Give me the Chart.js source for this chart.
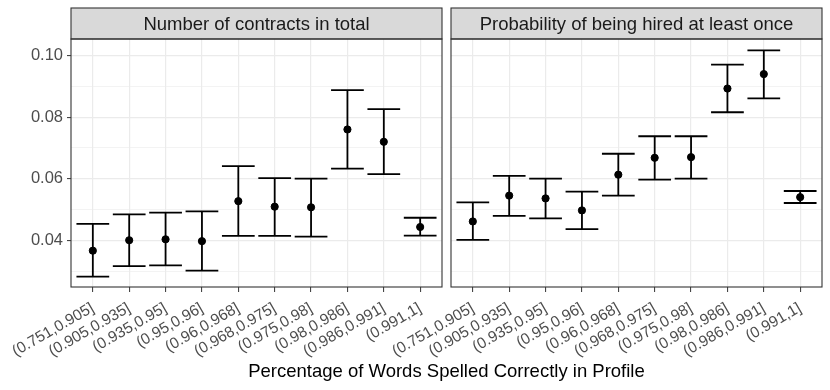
<!DOCTYPE html>
<html>
<head>
<meta charset="utf-8">
<script src="https://cdn.jsdelivr.net/npm/chart.js@4.4.1/dist/chart.umd.min.js"></script>
<style>
  body { margin: 0; background: #fff; }
  #wrap { position: relative; width: 830px; height: 390px; }
  canvas { position: absolute; left: 0; top: 0; }
  #xtitle {
    position: absolute; left: 71px; width: 751px; top: 360px;
    text-align: center; font: 18.5px "Liberation Sans", Arial, sans-serif; color: #000;
  }
</style>
</head>
<body>
<div id="wrap">
  <canvas id="leftChart" width="830" height="390"></canvas>
  <canvas id="rightChart" width="830" height="390"></canvas>
  <div id="xtitle">Percentage of Words Spelled Correctly in Profile</div>
</div>
<script>
const bins = ['(0.751,0.905]', '(0.905,0.935]', '(0.935,0.95]', '(0.95,0.96]', '(0.96,0.968]',
  '(0.968,0.975]', '(0.975,0.98]', '(0.98,0.986]', '(0.986,0.991]', '(0.991,1]'];

// Number of contracts in total
const contractsMean = [0.0366, 0.0400, 0.0403, 0.0397, 0.0527, 0.0509, 0.0507, 0.0760, 0.0720, 0.0443];
const contractsLow  = [0.0282, 0.0316, 0.0318, 0.0301, 0.0414, 0.0414, 0.0412, 0.0633, 0.0615, 0.0415];
const contractsHigh = [0.0453, 0.0484, 0.0490, 0.0494, 0.0641, 0.0602, 0.0600, 0.0888, 0.0826, 0.0473];

// Probability of being hired at least once
const hiredMean = [0.0461, 0.0545, 0.0536, 0.0497, 0.0613, 0.0668, 0.0670, 0.0893, 0.0940, 0.0540];
const hiredLow  = [0.0401, 0.0479, 0.0471, 0.0436, 0.0545, 0.0597, 0.0600, 0.0816, 0.0861, 0.0521];
const hiredHigh = [0.0523, 0.0609, 0.0600, 0.0558, 0.0681, 0.0738, 0.0738, 0.0971, 0.1017, 0.0560];

const yTicks = [0.03, 0.04, 0.05, 0.06, 0.07, 0.08, 0.09, 0.10];
const majorTicks = ['0.04', '0.06', '0.08', '0.10'];

const FONT = '"Liberation Sans", Arial, sans-serif';

// error bars + strip + panel border
const facetPlugin = {
  id: 'facet',
  beforeDatasetsDraw(chart, args, opts) {
    const { ctx, scales: { x, y } } = chart;
    const half = (x.getPixelForValue(1) - x.getPixelForValue(0)) * 0.45;
    ctx.save();
    ctx.strokeStyle = '#000';
    ctx.lineWidth = 1.8;
    opts.low.forEach((lo, i) => {
      const px = x.getPixelForValue(i);
      const yl = y.getPixelForValue(lo);
      const yh = y.getPixelForValue(opts.high[i]);
      ctx.beginPath();
      ctx.moveTo(px, yl); ctx.lineTo(px, yh);
      ctx.moveTo(px - half, yl); ctx.lineTo(px + half, yl);
      ctx.moveTo(px - half, yh); ctx.lineTo(px + half, yh);
      ctx.stroke();
    });
    ctx.restore();
  },
  afterDraw(chart, args, opts) {
    const { ctx, chartArea: a } = chart;
    ctx.save();
    ctx.fillStyle = '#D9D9D9';
    ctx.fillRect(a.left, 8, a.right - a.left, a.top - 8);
    ctx.strokeStyle = '#333333';
    ctx.lineWidth = 1.1;
    ctx.strokeRect(a.left, 8, a.right - a.left, a.top - 8);
    ctx.strokeRect(a.left, a.top, a.right - a.left, a.bottom - a.top);
    ctx.fillStyle = '#1A1A1A';
    ctx.font = '18.5px ' + FONT;
    ctx.textAlign = 'center';
    ctx.textBaseline = 'middle';
    ctx.fillText(opts.title, (a.left + a.right) / 2, (8 + a.top) / 2 + 1);
    ctx.restore();
  }
};

function makePanel(id, title, mean, low, high, showY, pad) {
  return new Chart(document.getElementById(id), {
    type: 'scatter',
    data: {
      datasets: [{
        data: mean.map((v, i) => ({ x: i, y: v })),
        backgroundColor: '#000',
        borderColor: '#000',
        pointRadius: 3.6,
        pointHoverRadius: 3.6
      }]
    },
    options: {
      responsive: false,
      devicePixelRatio: 1,
      animation: false,
      layout: { padding: pad },
      plugins: {
        legend: { display: false },
        tooltip: { enabled: false },
        facet: { title: title, low: low, high: high }
      },
      scales: {
        x: {
          type: 'linear',
          min: -0.6,
          max: 9.6,
          afterBuildTicks: s => { s.ticks = bins.map((b, i) => ({ value: i })); },
          afterFit: s => { s.height = 103; },
          border: { display: false },
          grid: { color: '#EBEBEB', lineWidth: 1.2, tickLength: 5, tickColor: '#333333', tickWidth: 1 },
          ticks: {
            autoSkip: false,
            minRotation: 30,
            maxRotation: 30,
            padding: 7,
            color: '#4D4D4D',
            font: { family: FONT, size: 15.5 },
            callback: v => bins[v]
          }
        },
        y: {
          min: 0.0248,
          max: 0.1054,
          afterBuildTicks: s => { s.ticks = yTicks.map(v => ({ value: v })); },
          afterFit: s => { s.width = showY ? 71 : 0; },
          border: { display: false },
          grid: {
            color: '#EBEBEB',
            lineWidth: c => majorTicks.includes(c.tick.value.toFixed(2)) ? 1.2 : 0.6,
            drawTicks: showY,
            tickLength: 4,
            tickWidth: 1,
            tickColor: c => majorTicks.includes(c.tick.value.toFixed(2)) ? '#333333' : 'rgba(0,0,0,0)'
          },
          ticks: {
            display: showY,
            padding: 4,
            color: '#4D4D4D',
            font: { family: FONT, size: 16.5 },
            callback: v => majorTicks.includes(v.toFixed(2)) ? v.toFixed(2) : ''
          }
        }
      }
    },
    plugins: [facetPlugin]
  });
}

makePanel('leftChart', 'Number of contracts in total', contractsMean, contractsLow, contractsHigh, true,
  { left: 0, top: 39, right: 388, bottom: 0 });
makePanel('rightChart', 'Probability of being hired at least once', hiredMean, hiredLow, hiredHigh, false,
  { left: 451, top: 39, right: 8, bottom: 0 });
</script>
</body>
</html>
